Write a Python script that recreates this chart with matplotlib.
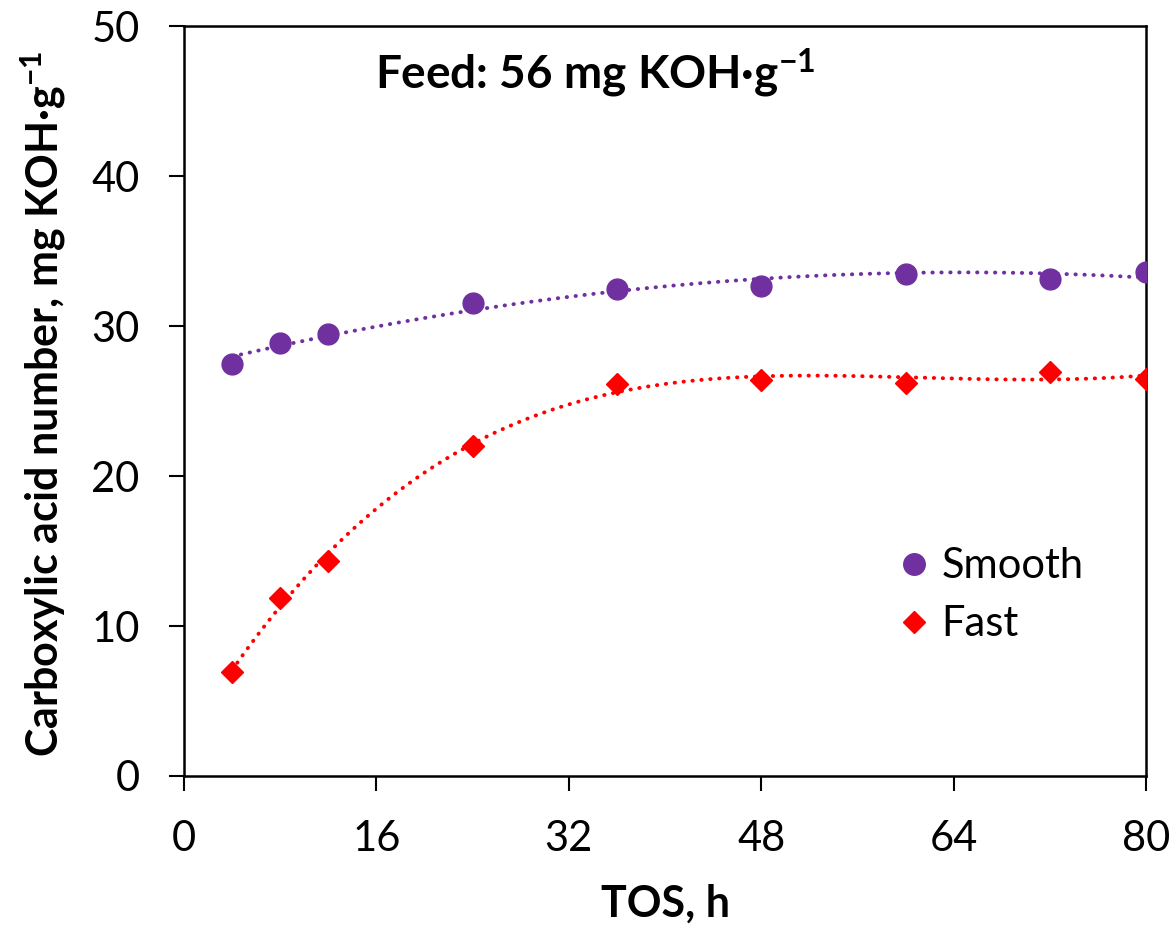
import numpy as np
import matplotlib
matplotlib.use("Agg")
import matplotlib.pyplot as plt
from matplotlib.lines import Line2D

plt.rcParams["font.family"] = ["Lato", "DejaVu Sans"]
plt.rcParams["mathtext.default"] = "regular"

# data
tos = [4, 8, 12, 24, 36, 48, 60, 72, 80]
smooth = [27.5, 28.85, 29.45, 31.55, 32.5, 32.67, 33.5, 33.15, 33.62]
fast = [6.95, 11.85, 14.35, 22.0, 26.15, 26.4, 26.2, 26.95, 26.5]

x_ticks = [0, 16, 32, 48, 64, 80]
y_ticks = [0, 10, 20, 30, 40, 50]

PURPLE = "#7030A0"
RED = "#FF0000"

fig = plt.figure(figsize=(11.76, 9.30), dpi=100)
ax = fig.add_axes([0.1565, 0.1656, 0.8180, 0.8064])

# polynomial trendlines (spreadsheet style)
xx = np.linspace(min(tos), max(tos), 300)
ps = np.polyfit(tos, smooth, 2)
pf = np.polyfit(tos, fast, 4)
dot = dict(linestyle=(0, (0.1, 2.2)), dash_capstyle="round", linewidth=2.8)
ax.plot(xx, np.polyval(ps, xx), color=PURPLE, **dot)
ax.plot(xx, np.polyval(pf, xx), color=RED, **dot)

ax.plot(tos, smooth, "o", color=PURPLE, markersize=15, linestyle="none", zorder=3)
ax.plot(tos, fast, "D", color=RED, markersize=11.3, linestyle="none", zorder=3)

ax.set_xlim(0, 80)
ax.set_ylim(0, 50)
ax.set_xticks(x_ticks)
ax.set_yticks(y_ticks)
ax.tick_params(direction="out", length=11, width=1.5, labelsize=30, pad=21)
for s in ax.spines.values():
    s.set_linewidth(1.8)
    s.set_color("black")

ax.set_xlabel("TOS, h", fontsize=31, fontweight="bold")
ax.xaxis.set_label_coords(0.5, -0.188)
ax.xaxis.label.set_verticalalignment("baseline")

ax.set_ylabel("Carboxylic acid number, mg KOH·g$^{-1}$", fontsize=31,
              fontweight="bold")
ax.yaxis.set_label_coords(-0.1726, 0.496)
ax.yaxis.label.set_verticalalignment("top")

ax.text(0.427, 0.916, "Feed: 56 mg KOH·g$^{-1}$", transform=ax.transAxes,
        ha="center", va="baseline", fontsize=33, fontweight="bold")

handles = [
    Line2D([], [], marker="o", color=PURPLE, linestyle="none", markersize=15.5),
    Line2D([], [], marker="D", color=RED, linestyle="none", markersize=11.3),
]
ax.legend(handles, ["Smooth", "Fast"], loc="center left",
          bbox_to_anchor=(0.733, 0.241), frameon=False, fontsize=30,
          handletextpad=0.05, labelspacing=0.48, handlelength=1.2,
          borderaxespad=0, borderpad=0)

fig.savefig("out.png", dpi=100)
